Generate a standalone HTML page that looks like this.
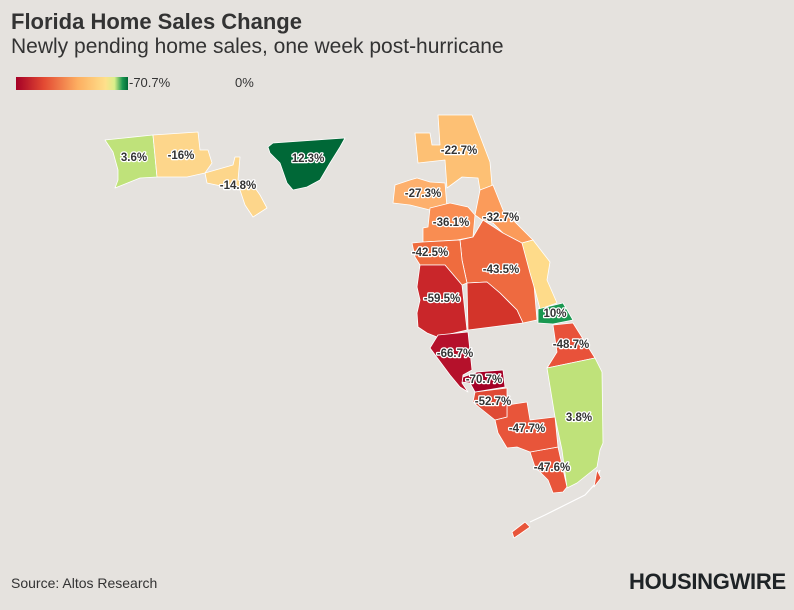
<!DOCTYPE html>
<html><head><meta charset="utf-8"><style>
body{margin:0;background:#e5e2de;font-family:"Liberation Sans",sans-serif;}
#c{position:relative;width:794px;height:610px;overflow:hidden;background:#e5e2de;}
.t{position:absolute;left:11px;top:9px;font-size:22px;font-weight:bold;color:#333;}
.s{position:absolute;left:11px;top:35px;font-size:21px;color:#333;}
.src{position:absolute;left:11px;top:575px;font-size:14px;color:#333;}
.logo{position:absolute;left:629px;top:569px;font-size:22px;font-weight:900;color:#1e2326;letter-spacing:-0.3px;}
svg text{font-size:11.5px;font-weight:bold;fill:#333;stroke:#fff;stroke-width:2.5px;paint-order:stroke;text-anchor:middle;dominant-baseline:middle}
</style></head><body><div id="c">
<div class="t">Florida Home Sales Change</div>
<div class="s">Newly pending home sales, one week post-hurricane</div>
<div style="position:absolute;left:16px;top:77px;width:112px;height:13px;background:linear-gradient(90deg,#a50026,#e34a33 25%,#fdae61 55%,#fee08b 80%,#d9ef8b 88%,#1a9850 95%,#006837)"></div>
<div style="position:absolute;left:129px;top:75px;font-size:13px;color:#333">-70.7%</div>
<div style="position:absolute;left:235px;top:75px;font-size:13px;color:#333">0%</div>
<svg width="794" height="610" style="position:absolute;left:0;top:0" stroke="#fff" stroke-width="0.8" stroke-linejoin="round">
<polygon fill="#bfe27a" points="105,140 153,135 157,177 140,178 115,188 118,180 118,170 113,152"/>
<polygon fill="#fdd68b" points="153,135 198,132 200,150 208,150 212,163 205,173 187,177 157,177"/>
<polygon fill="#fdd68b" points="205,173 233,165 235,157 240,157 238,180 253,185 260,195 267,208 253,217 245,205 240,190 207,183"/>
<polygon fill="#006837" points="268,147 273,143 345,138 340,147 330,163 320,180 307,187 293,190 287,183 280,163 270,153"/>
<polygon fill="#fdc074" points="438,115 472,115 490,162 492,186 480,190 478,178 462,177 447,188 445,160 418,163 415,133 430,133 432,145 440,145"/>
<polygon fill="#fdb06d" points="395,185 410,180 417,178 430,182 445,183 447,208 430,210 410,205 393,203"/>
<polygon fill="#f98d52" points="430,208 450,203 468,207 475,215 473,237 457,240 423,242 423,228 428,227"/>
<polygon fill="#fb9b5a" points="480,190 493,185 503,210 533,240 522,243 510,243 503,233 493,223 482,220 475,215"/>
<polygon fill="#ee6a40" points="460,240 473,237 483,220 503,233 522,243 533,273 537,320 523,323 517,310 500,293 487,282 467,283 462,260"/>
<polygon fill="#ef6c3e" points="412,243 423,242 460,240 462,260 467,283 462,285 445,265 420,265 415,257"/>
<polygon fill="#c9262a" points="420,265 445,265 462,285 467,330 437,337 427,333 418,327 417,313 420,300 417,287"/>
<polygon fill="#d3342a" points="467,283 487,282 500,293 517,310 523,323 468,330"/>
<polygon fill="#fedb8a" points="522,243 533,240 550,262 547,280 557,303 540,309 535,290 530,273"/>
<polygon fill="#1a9850" points="538,309 563,303 573,320 553,324 538,323"/>
<polygon fill="#e8523a" points="553,325 573,323 595,358 547,368 557,352"/>
<polygon fill="#bfe27a" points="547,368 595,358 602,372 603,443 600,450 597,467 577,483 567,488 562,450 555,417"/>
<polygon fill="#e8553a" points="530,452 558,447 567,487 563,492 553,493 548,480 535,467"/>
<polygon fill="#e8553a" points="495,420 507,417 507,405 527,402 530,420 555,417 558,447 530,452 517,447 507,448 498,433"/>
<polygon fill="#df4a35" points="475,392 507,388 507,405 507,417 495,420 480,408 473,402"/>
<polygon fill="#a50026" points="477,372 503,370 505,387 475,392 470,383 462,382 463,377"/>
<polygon fill="#b5112b" points="430,348 438,335 468,332 472,370 463,375 462,383 468,392 460,387 450,375"/>
<polygon fill="#e8553a" points="512,532 525,522 530,527 520,534 514,538"/>
<polyline fill="none" stroke="#fff" stroke-width="1.2" points="600,470 596,483 585,495 565,505 545,515 530,522"/>
<polygon fill="#e8553a" points="597,470 601,478 594,487"/>
<text x="134" y="158">3.6%</text><text x="181" y="156">-16%</text><text x="238" y="186">-14.8%</text>
<text x="308" y="159">12.3%</text><text x="459" y="151">-22.7%</text><text x="423" y="194">-27.3%</text>
<text x="451" y="223">-36.1%</text><text x="501" y="218">-32.7%</text><text x="430" y="253">-42.5%</text>
<text x="501" y="270">-43.5%</text><text x="442" y="299">-59.5%</text><text x="555" y="314">10%</text>
<text x="571" y="345">-48.7%</text><text x="455" y="354">-66.7%</text><text x="484" y="380">-70.7%</text>
<text x="493" y="402">-52.7%</text><text x="527" y="429">-47.7%</text><text x="579" y="418">3.8%</text>
<text x="552" y="468">-47.6%</text>
</svg>
<div class="src">Source: Altos Research</div>
<div class="logo">HOUSINGWIRE</div>
</div></body></html>
